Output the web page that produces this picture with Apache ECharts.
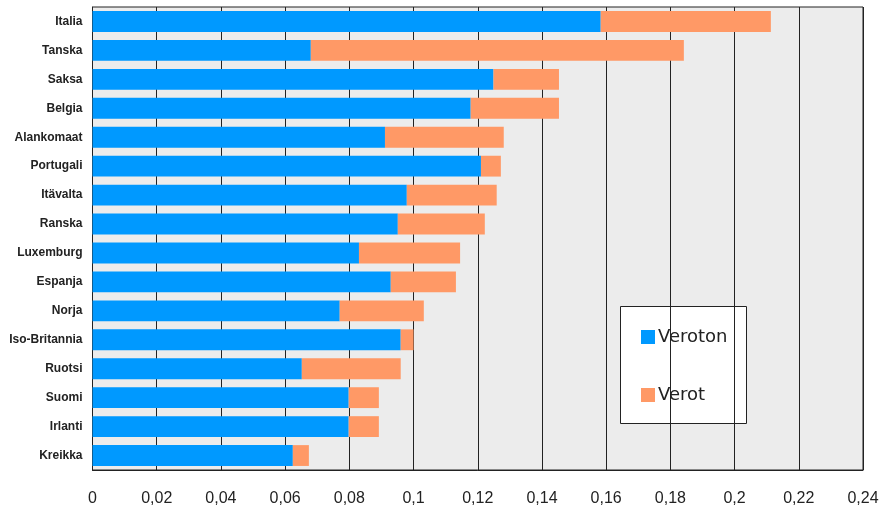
<!DOCTYPE html>
<html>
<head>
<meta charset="utf-8">
<script src="https://cdn.jsdelivr.net/npm/echarts@6/dist/echarts.min.js"></script>
<style>
  html, body { margin: 0; padding: 0; background: #ffffff; }
  #chart { width: 882px; height: 513px; }
</style>
</head>
<body>
<div id="chart"></div>
<script>
// Countries, top to bottom
const countries = ['Italia', 'Tanska', 'Saksa', 'Belgia', 'Alankomaat', 'Portugali', 'Itävalta', 'Ranska',
  'Luxemburg', 'Espanja', 'Norja', 'Iso-Britannia', 'Ruotsi', 'Suomi', 'Irlanti', 'Kreikka'];

// Price without taxes
const veroton = [0.1583, 0.0680, 0.1249, 0.1178, 0.0911, 0.1210, 0.0979, 0.0951,
  0.0830, 0.0929, 0.0770, 0.0960, 0.0652, 0.0798, 0.0798, 0.0624];

// Taxes
const verot = [0.0530, 0.1162, 0.0204, 0.0275, 0.0370, 0.0062, 0.0280, 0.0271,
  0.0315, 0.0203, 0.0262, 0.0040, 0.0308, 0.0094, 0.0094, 0.0050];

const seriesNames = ['Veroton', 'Verot'];
const axisMax = 0.24;
const axisStep = 0.02;

const chart = echarts.init(document.getElementById('chart'), null, { renderer: 'canvas' });

chart.setOption({
  animation: false,
  backgroundColor: '#ffffff',
  grid: {
    left: 92.5, right: 19, top: 7, bottom: 43,
    show: true,
    backgroundColor: '#ececec',
    borderColor: '#222222',
    borderWidth: 1
  },
  xAxis: {
    type: 'value',
    min: 0, max: axisMax, interval: axisStep,
    axisLine: { show: true, lineStyle: { color: '#222222' } },
    axisTick: { show: false },
    splitLine: { show: true, lineStyle: { color: '#222222', width: 1 } },
    axisLabel: {
      margin: 21,
      fontFamily: 'Liberation Sans',
      fontSize: 16,
      color: '#222222',
      formatter: v => String(Math.round(v * 100) / 100).replace('.', ',')
    }
  },
  yAxis: {
    type: 'category',
    data: countries,
    inverse: true,
    axisLine: { show: true, lineStyle: { color: '#222222' } },
    axisTick: { show: false },
    axisLabel: {
      margin: 10,
      fontFamily: 'Liberation Sans',
      fontWeight: 'bold',
      fontSize: 12,
      color: '#222222'
    }
  },
  legend: {
    orient: 'vertical',
    left: 636,
    top: 323,
    itemWidth: 14,
    itemHeight: 14,
    itemGap: 40,
    icon: 'rect',
    textStyle: {
      fontFamily: 'DejaVu Sans',
      fontSize: 18,
      color: '#222222',
      padding: [0, 0, 0, -2]
    },
    data: seriesNames
  },
  graphic: [{
    type: 'rect',
    z: 0,
    zlevel: 0,
    shape: { x: 620.5, y: 306.5, width: 126, height: 117 },
    style: { fill: '#ffffff', stroke: '#222222', lineWidth: 1 }
  }],
  series: [
    {
      name: seriesNames[0],
      type: 'bar',
      stack: 'hinta',
      data: veroton,
      barWidth: '72%',
      itemStyle: { color: '#0099ff' },
      z: 2
    },
    {
      name: seriesNames[1],
      type: 'bar',
      stack: 'hinta',
      data: verot,
      barWidth: '72%',
      itemStyle: { color: '#ff9966' },
      z: 2
    }
  ]
});
</script>
</body>
</html>
